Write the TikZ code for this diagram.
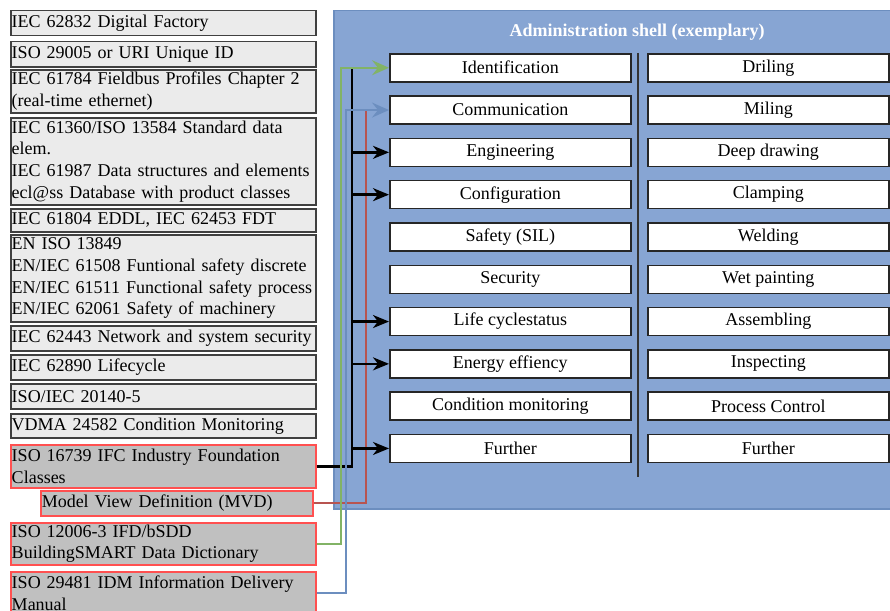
\documentclass[tikz,border=0pt]{standalone}
\usepackage{fontspec}
\setmainfont{Liberation Serif}
\usetikzlibrary{arrows.meta}
\definecolor{lfill}{HTML}{EBEBEB}
\definecolor{lborder}{HTML}{404040}
\definecolor{rfill}{HTML}{C0C0C0}
\definecolor{rborder}{HTML}{FF5050}
\definecolor{panel}{HTML}{87A5D3}
\definecolor{panelb}{HTML}{6C8EBF}
\definecolor{grnc}{HTML}{82B366}
\definecolor{bluc}{HTML}{6C8EBF}
\definecolor{redc}{HTML}{B85450}
\begin{document}
\begin{tikzpicture}[x=1pt,y=-1pt,
  lbox/.style={draw=lborder, fill=lfill, line width=1.5pt, anchor=north west,
    minimum width=305pt, text width=303pt, inner xsep=1pt, inner ysep=0pt, align=left,
    execute at begin node={\hyphenpenalty=10000\exhyphenpenalty=10000\hbadness=10000\hfuzz=20pt},
    font=\fontsize{18}{21.7}\selectfont},
  redbox/.style={lbox, draw=rborder, fill=rfill},
  rbox/.style={draw=black!85, fill=white, line width=1.5pt, anchor=north west,
    minimum width=241pt, minimum height=28pt, inner sep=0pt,
    font=\fontsize{18}{21.7}\selectfont},
  blk/.style={line width=2.5pt, black},
  blkarrow/.style={blk, -{Stealth[length=16pt,width=13pt,inset=5pt]}},
  colarrow/.style={line width=1.8pt, -{Stealth[length=17pt,width=15pt,inset=6pt]}}
]
\useasboundingbox (0,0) rectangle (890,610);
\clip (0,0) rectangle (890,610);

% left standards column
\node[lbox, minimum height=25pt] (b1) at (10,10) {IEC 62832 Digital Factory};
\node[lbox, minimum height=25pt] (b2) at (10,41) {ISO 29005 or URI Unique ID};
\node[lbox, minimum height=43pt] (b3) at (10,69) {IEC 61784 Fieldbus Profiles Chapter 2\\(real-time ethernet)};
\node[lbox, minimum height=87pt] (b4) at (10,117) {IEC 61360/ISO 13584 Standard data\\elem.\\IEC 61987 Data structures and elements\\ecl@ss Database with product classes};
\node[lbox, minimum height=23pt] (b5) at (10,208) {IEC 61804 EDDL, IEC 62453 FDT};
\node[lbox, minimum height=87pt] (b6) at (10,234) {EN ISO 13849\\EN/IEC 61508 Funtional safety discrete\\EN/IEC 61511 Functional safety process\\EN/IEC 62061 Safety of machinery};
\node[lbox, minimum height=25pt] (b7) at (10,325) {IEC 62443 Network and system security};
\node[lbox, minimum height=25pt] (b8) at (10,354) {IEC 62890 Lifecycle};
\node[lbox, minimum height=25pt] (b9) at (10,383) {ISO/IEC 20140-5};
\node[lbox, minimum height=24pt] (b10) at (10,413) {VDMA 24582 Condition Monitoring};
\node[redbox, minimum height=43pt] (b11) at (10,444) {ISO 16739 IFC Industry Foundation\\Classes};
\node[redbox, minimum height=25pt, minimum width=272pt, text width=270pt] (b12) at (40,490) {Model View Definition (MVD)};
\node[redbox, minimum height=42pt] (b13) at (10,522) {ISO 12006-3 IFD/bSDD\\BuildingSMART Data Dictionary};
\node[redbox, minimum height=43pt] (b14) at (10,571) {ISO 29481 IDM Information Delivery\\Manual};

% administration shell panel
\node[draw=panelb, fill=panel, line width=1.5pt, anchor=north west, minimum width=560pt, minimum height=498pt, inner sep=0pt] (panel) at (333,10) {};
\node[text=white, font=\fontsize{18}{21.7}\selectfont\bfseries] (title) at (637,32) {Administration shell (exemplary)};

\foreach \i/\a/\b in {0/Identification/Driling, 1/Communication/Miling, 2/Engineering/Deep drawing, 3/Configuration/Clamping, 4/Safety (SIL)/Welding, 5/Security/Wet painting, 6/Life cyclestatus/Assembling, 7/Energy effiency/Inspecting, 8/Condition monitoring/Process Control, 9/Further/Further} {
  \node[rbox] (r\i) at (389,{53+42.3*\i}) {\a};
  \node[rbox] (s\i) at (647,{53+42.3*\i}) {\b};
}
\coordinate (dtop) at (638,53);
\coordinate (dbot) at (638,477);
\draw[line width=1.5pt, black!80] (dtop) -- (dbot);

% connectors
\coordinate (rt) at (366,111);
\coordinate (bt) at (352,68);
\coordinate (gt) at (341,0);
\coordinate (lt) at (346,0);
\draw[line width=1.8pt, redc] (b12.east) -| (rt);
\draw[blk] (b11.east) -| (bt);
\foreach \i in {2,3,6,7,9} {
  \draw[blkarrow] (bt |- r\i.west) -- (r\i.west);
}
\draw[colarrow, grnc] (b13.east) -| (gt |- r0.west) -- (r0.west);
\draw[colarrow, bluc] (b14.east) -| (lt |- r1.west) -- (r1.west);
\end{tikzpicture}
\end{document}
